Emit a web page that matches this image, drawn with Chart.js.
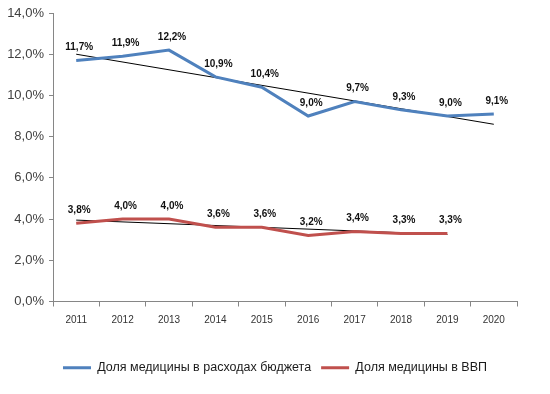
<!DOCTYPE html>
<html>
<head>
<meta charset="utf-8">
<script src="https://cdn.jsdelivr.net/npm/chart.js@4/dist/chart.umd.min.js"></script>
<style>
  html, body { margin: 0; padding: 0; background: #fff; }
  #wrap { width: 550px; height: 394px; }
</style>
</head>
<body>
<div id="wrap"><canvas id="chart" width="550" height="394"></canvas></div>
<script>
const years = ['2011', '2012', '2013', '2014', '2015', '2016', '2017', '2018', '2019', '2020'];
const budgetShare = [11.7, 11.9, 12.2, 10.9, 10.4, 9.0, 9.7, 9.3, 9.0, 9.1];
const gdpShare = [3.8, 4.0, 4.0, 3.6, 3.6, 3.2, 3.4, 3.3, 3.3, null];
// trend line ends
const budgetTrend = [12.0, null, null, null, null, null, null, null, null, 8.6];
const gdpTrend = [3.95, null, null, null, null, null, null, null, 3.25, null];

const FONT = 'Liberation Sans, Arial, sans-serif';

function pct(v) {
    return v.toFixed(1).replace('.', ',') + '%';
}

// labels above the points of the main series
const pointLabels = {
    id: 'pointLabels',
    afterDatasetsDraw(chart) {
        const ctx = chart.ctx;
        ctx.save();
        ctx.font = 'bold 10px ' + FONT;
        ctx.fillStyle = '#111';
        ctx.textAlign = 'center';
        ctx.textBaseline = 'middle';
        chart.data.datasets.forEach((ds, i) => {
            if (!ds.showLabels) return;
            chart.getDatasetMeta(i).data.forEach((pt, j) => {
                if (ds.data[j] === null) return;
                ctx.fillText(pct(ds.data[j]), pt.x + 3, pt.y - 13);
            });
        });
        ctx.restore();
    }
};

new Chart(document.getElementById('chart'), {
    type: 'line',
    data: {
        labels: years,
        datasets: [
            {
                label: 'Доля медицины в расходах бюджета',
                data: budgetShare,
                borderColor: '#4F81BD',
                backgroundColor: '#4F81BD',
                borderWidth: 3,
                pointRadius: 0,
                tension: 0,
                showLabels: true
            },
            {
                label: 'Доля медицины в ВВП',
                data: gdpShare,
                borderColor: '#C0504D',
                backgroundColor: '#C0504D',
                borderWidth: 3,
                pointRadius: 0,
                tension: 0,
                showLabels: true
            },
            {
                label: '',
                data: budgetTrend,
                borderColor: '#000',
                borderWidth: 1,
                pointRadius: 0,
                spanGaps: true
            },
            {
                label: '',
                data: gdpTrend,
                borderColor: '#000',
                borderWidth: 1,
                pointRadius: 0,
                spanGaps: true
            }
        ]
    },
    options: {
        responsive: false,
        animation: false,
        layout: { padding: { top: 13, left: 0, right: 0, bottom: 10 } },
        plugins: {
            tooltip: { enabled: false },
            legend: {
                position: 'bottom',
                labels: {
                    filter: item => item.text !== '',
                    usePointStyle: true,
                    pointStyle: 'line',
                    pointStyleWidth: 28,
                    color: '#1a1a1a',
                    padding: 10,
                    font: { family: FONT, size: 12.5 }
                }
            }
        },
        scales: {
            x: {
                offset: true,
                grid: { offset: true, drawOnChartArea: false, tickLength: 5, color: '#868686' },
                border: { color: '#868686' },
                ticks: { color: '#333', padding: 8, font: { family: FONT, size: 10 } },
                afterFit: s => { s.height = 50; }
            },
            y: {
                min: 0,
                max: 14,
                ticks: {
                    stepSize: 2,
                    padding: 5,
                    color: '#404040',
                    font: { family: FONT, size: 13 },
                    callback: v => pct(v)
                },
                grid: { drawOnChartArea: false, tickLength: 4, color: '#868686' },
                border: { color: '#868686' },
                afterFit: s => { s.width = 53; }
            },
            // empty right-hand space, keeps the legend centred on the canvas
            yRight: {
                type: 'linear',
                position: 'right',
                display: true,
                ticks: { display: false },
                grid: { display: false },
                border: { display: false },
                afterFit: s => { s.width = 33; }
            }
        }
    },
    plugins: [pointLabels]
});
</script>
</body>
</html>
